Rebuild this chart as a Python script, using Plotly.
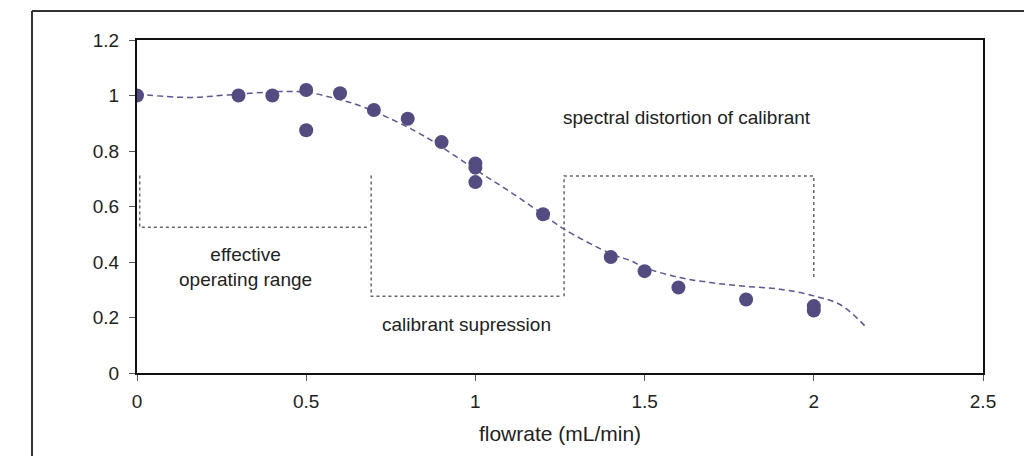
import plotly.graph_objects as go

# measured data points
flow = [0, 0.3, 0.4, 0.5, 0.5, 0.6, 0.7, 0.8, 0.9, 1.0, 1.0, 1.0, 1.2, 1.4, 1.5, 1.6, 1.8, 2.0, 2.0]
ratio = [1.0, 1.0, 1.0, 1.02, 0.875, 1.008, 0.948, 0.916, 0.832, 0.755, 0.74, 0.688, 0.572,
         0.418, 0.367, 0.308, 0.265, 0.241, 0.225]

# trend curve
fit_x = [0, 0.15, 0.27, 0.42, 0.5, 0.59, 0.67, 0.8, 0.87, 1.0, 1.1, 1.19, 1.26, 1.4, 1.46, 1.5,
         1.6, 1.7, 1.8, 1.9, 2.0, 2.08, 2.157]
fit_y = [1.005, 0.993, 1.002, 1.014, 1.012, 0.988, 0.958, 0.886, 0.838, 0.733, 0.655, 0.58, 0.52,
         0.43, 0.404, 0.38, 0.345, 0.325, 0.312, 0.302, 0.278, 0.245, 0.162]

x_ticks = [0, 0.5, 1, 1.5, 2, 2.5]
y_ticks = [0, 0.2, 0.4, 0.6, 0.8, 1, 1.2]

FONT = "Liberation Sans, Arial, sans-serif"
W, H = 1024, 456
ML, MR, MT, MB = 137, 41, 40, 83
PW, PH = W - ML - MR, H - MT - MB


def px_x(p):
    return (p - ML) / PW


def px_y(p):
    return (H - MB - p) / PH


fig = go.Figure()
fig.add_trace(go.Scatter(
    x=fit_x, y=fit_y, mode="lines", line=dict(color="#5a5792", width=1.5, dash="6px,4px",
                                            shape="spline", smoothing=1.0),
    hoverinfo="skip", showlegend=False))
fig.add_trace(go.Scatter(
    x=flow, y=ratio, mode="markers",
    marker=dict(color="#534c80", size=14, line=dict(width=0)),
    showlegend=False))

dot = dict(color="#666666", width=1.5, dash="dot")
shapes = [
    dict(type="path", xref="x", yref="y", path="M 0.008 0.712 L 0.008 0.525 L 0.685 0.525", line=dot),
    dict(type="path", xref="x", yref="y",
         path="M 0.692 0.712 L 0.692 0.277 L 1.255 0.277", line=dot),
    dict(type="path", xref="x", yref="y",
         path="M 1.262 0.277 L 1.262 0.710 L 2.0 0.710 L 2.0 0.335", line=dot),
    # outer frame (left and top edges)
    dict(type="line", xref="paper", yref="paper", x0=px_x(32), x1=px_x(1030), y0=px_y(11), y1=px_y(11),
         line=dict(color="#333333", width=2)),
    dict(type="line", xref="paper", yref="paper", x0=px_x(32), x1=px_x(32), y0=px_y(11), y1=px_y(465),
         line=dict(color="#333333", width=2)),
]

annots = [
    dict(x=1.625, y=0.919, text="spectral distortion of calibrant"),
    dict(x=0.32, y=0.382, text="effective<br>operating range"),
    dict(x=0.975, y=0.173, text="calibrant supression"),
]
for a in annots:
    a.update(xref="x", yref="y", showarrow=False, font=dict(family=FONT, size=19, color="#222222"))

tickfont = dict(family=FONT, size=19, color="#222222")
fig.update_layout(
    width=W, height=H, margin=dict(l=ML, r=MR, t=MT, b=MB),
    paper_bgcolor="white", plot_bgcolor="white",
    font=dict(family=FONT, size=19, color="#222222"),
    shapes=shapes, annotations=annots,
    xaxis=dict(range=[0, 2.5], tickvals=x_ticks, showgrid=False, zeroline=False,
               showline=True, linecolor="#111111", linewidth=2, mirror=True,
               ticks="outside", ticklen=6, tickcolor="#555555", tickfont=tickfont,
               ticklabelstandoff=4,
               title=dict(text="flowrate (mL/min)", standoff=16,
                          font=dict(family=FONT, size=21, color="#222222"))),
    yaxis=dict(range=[0, 1.2], tickvals=y_ticks, showgrid=False, zeroline=False,
               showline=True, linecolor="#111111", linewidth=2, mirror=True,
               ticks="outside", ticklen=6, tickcolor="#555555", tickfont=tickfont,
               ticklabelstandoff=6),
)

fig.write_html("out.html")
